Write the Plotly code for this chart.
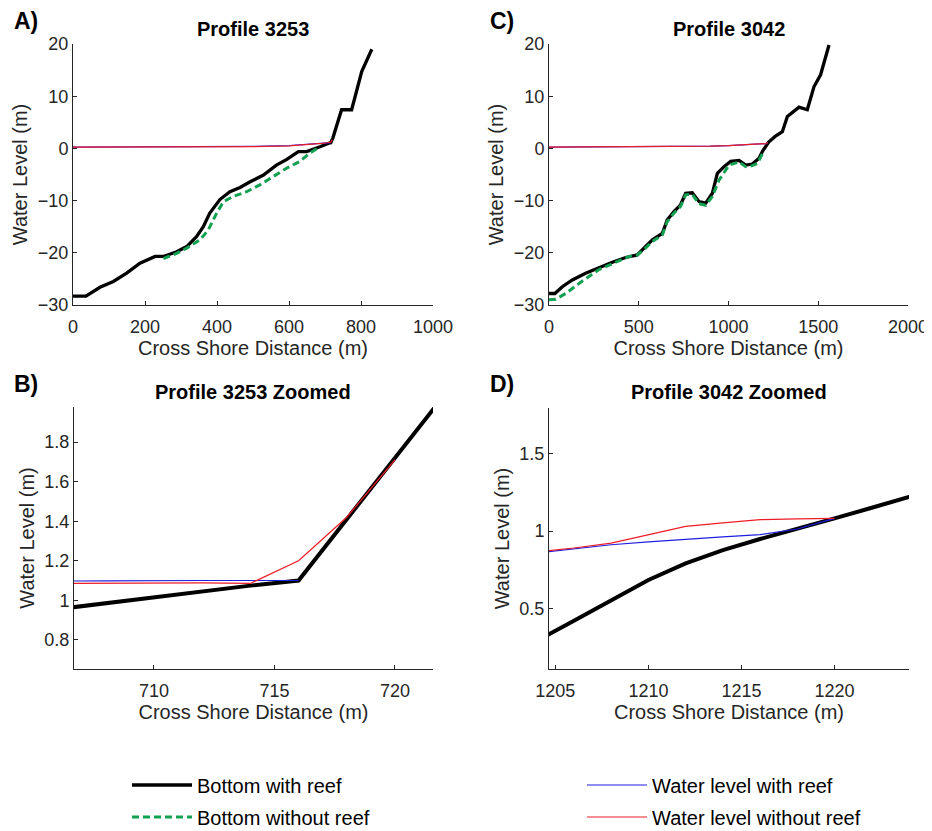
import plotly.graph_objects as go

# ---------------- data ----------------
# Profile 3253 : bottom with reef
p3253_bottom_reef_x = [0, 36, 75, 112, 149, 186, 228, 251, 288, 316, 343, 362, 380, 408, 436, 464,
                       492, 529, 565, 594, 626, 649, 686, 706, 708, 710, 712, 714, 716, 718, 720,
                       722, 746, 774, 802, 830]
p3253_bottom_reef_y = [-28.3, -28.3, -26.6, -25.5, -23.9, -22.0, -20.7, -20.7, -19.8, -18.8, -16.9,
                       -15.0, -12.4, -9.8, -8.3, -7.5, -6.4, -5.1, -3.2, -2.1, -0.6, -0.6, 0.3,
                       0.955, 0.985, 1.017, 1.045, 1.074, 1.10, 1.41, 1.72, 2.03, 7.4, 7.4, 14.7, 19.0]
# Profile 3253 : bottom without reef
p3253_bottom_noreef_x = [251, 288, 316, 353, 376, 399, 418, 445, 482, 519, 556, 593, 630, 658, 686]
p3253_bottom_noreef_y = [-21.1, -20.1, -19.1, -17.5, -15.6, -12.4, -10.2, -9.2, -8.3, -7.0, -5.4,
                         -3.8, -2.5, -0.9, 0.3]
# Profile 3253 : water levels
p3253_wl_reef_x = [0, 100, 200, 300, 400, 500, 600, 650, 690, 706, 708, 710, 712, 714, 716]
p3253_wl_reef_y = [0.25, 0.25, 0.26, 0.27, 0.30, 0.38, 0.55, 0.75, 0.98, 1.097, 1.098, 1.10, 1.10,
                   1.10, 1.10]
p3253_wl_noreef_x = [0, 100, 200, 300, 400, 500, 600, 650, 690, 706, 708, 710, 712, 714, 716, 718, 720]
p3253_wl_noreef_y = [0.25, 0.25, 0.26, 0.27, 0.29, 0.34, 0.48, 0.68, 0.95, 1.085, 1.086, 1.087,
                     1.088, 1.085, 1.20, 1.42, 1.71]

# Profile 3042 : bottom with reef
p3042_bottom_reef_x = [0, 33, 74, 130, 204, 279, 353, 427, 492, 529, 576, 631, 659, 696, 733, 761,
                       798, 836, 873, 910, 938, 975, 1012, 1059, 1096, 1133, 1170, 1190, 1204, 1206,
                       1208, 1210, 1212, 1214, 1216, 1218, 1220, 1222, 1224, 1260, 1300, 1328, 1393,
                       1439, 1476, 1513, 1560]
p3042_bottom_reef_y = [-27.8, -27.8, -26.5, -25.2, -23.9, -22.8, -21.8, -20.9, -20.4, -19.1, -17.5,
                       -16.3, -13.7, -12.1, -10.8, -8.6, -8.5, -10.2, -10.5, -8.6, -4.8, -3.5, -2.5,
                       -2.3, -3.2, -3.0, -1.9, -0.5, 0.29, 0.42, 0.554, 0.683, 0.791, 0.877, 0.948,
                       1.013, 1.082, 1.15, 1.22, 2.3, 3.2, 6.1, 7.9, 7.4, 11.8, 14.1, 19.8]
# Profile 3042 : bottom without reef
p3042_bottom_noreef_x = [0, 37, 93, 186, 279, 372, 446, 492, 529, 576, 631, 659, 696, 733, 761, 798,
                         836, 873, 910, 947, 1003, 1059, 1096, 1133, 1161, 1195]
p3042_bottom_noreef_y = [-29.0, -28.9, -27.8, -25.4, -23.2, -21.8, -20.7, -20.4, -19.4, -17.8,
                         -16.6, -14.0, -12.4, -11.1, -8.9, -8.8, -10.6, -10.9, -9.2, -6.1, -3.2,
                         -2.6, -3.5, -3.3, -2.9, -0.6]
# Profile 3042 : water levels
p3042_wl_x = [0, 300, 600, 900, 1000, 1100, 1150, 1190, 1204, 1206, 1208, 1210, 1212, 1214, 1216,
              1218, 1220]
p3042_wl_reef_y = [0.25, 0.27, 0.30, 0.42, 0.52, 0.65, 0.74, 0.82, 0.858, 0.885, 0.911, 0.93, 0.948,
                   0.962, 0.976, 1.013, 1.082]
p3042_wl_noreef_y = [0.25, 0.27, 0.30, 0.42, 0.52, 0.65, 0.74, 0.83, 0.865, 0.89, 0.922, 0.975,
                     1.03, 1.052, 1.073, 1.078, 1.082]

series_names = ["Bottom with reef", "Bottom without reef", "Water level with reef",
                "Water level without reef"]
panel_titles = ["Profile 3253", "Profile 3042", "Profile 3253 Zoomed", "Profile 3042 Zoomed"]
panel_letters = ["A)", "C)", "B)", "D)"]

# ---------------- styling ----------------
FONT = "Liberation Sans, Arial, Helvetica, sans-serif"
PAGE_W, PAGE_H = 932, 831
OFF = 8                       # default page margin of the html body
W, H = PAGE_W - OFF, PAGE_H - OFF
AX = "#262626"
BLACK, GREEN, BLUE, RED = "#000000", "#12a150", "#1f1fe0", "#ee1c25"


def fx(p):
    return (p - OFF) / W


def fy(p):
    return 1 - (p - OFF) / H


def dx(a, b):
    return [fx(a), fx(b)]


def dy(top, bottom):
    return [fy(bottom), fy(top)]


fig = go.Figure()

profiles = [
    ("x", "y", p3253_bottom_reef_x, p3253_bottom_reef_y, p3253_bottom_noreef_x, p3253_bottom_noreef_y,
     p3253_wl_reef_x, p3253_wl_reef_y, p3253_wl_noreef_x, p3253_wl_noreef_y, True, 3.3),
    ("x3", "y3", p3253_bottom_reef_x, p3253_bottom_reef_y, p3253_bottom_noreef_x, p3253_bottom_noreef_y,
     p3253_wl_reef_x, p3253_wl_reef_y, p3253_wl_noreef_x, p3253_wl_noreef_y, False, 4),
    ("x2", "y2", p3042_bottom_reef_x, p3042_bottom_reef_y, p3042_bottom_noreef_x, p3042_bottom_noreef_y,
     p3042_wl_x, p3042_wl_reef_y, p3042_wl_x, p3042_wl_noreef_y, False, 3.3),
    ("x4", "y4", p3042_bottom_reef_x, p3042_bottom_reef_y, p3042_bottom_noreef_x, p3042_bottom_noreef_y,
     p3042_wl_x, p3042_wl_reef_y, p3042_wl_x, p3042_wl_noreef_y, False, 4),
]

for xa, ya, bx, by, gx, gy, wbx, wby, wrx, wry, show, bw in profiles:
    fig.add_trace(go.Scatter(x=bx, y=by, mode="lines", name=series_names[0], xaxis=xa, yaxis=ya,
                             line=dict(color=BLACK, width=bw), showlegend=show, legend="legend"))
    fig.add_trace(go.Scatter(x=gx, y=gy, mode="lines", name=series_names[1], xaxis=xa, yaxis=ya,
                             line=dict(color=GREEN, width=3, dash="7px,4px"), showlegend=show,
                             legend="legend2"))
    fig.add_trace(go.Scatter(x=wbx, y=wby, mode="lines", name=series_names[2], xaxis=xa, yaxis=ya,
                             line=dict(color=BLUE, width=1.2), showlegend=show, legend="legend3"))
    fig.add_trace(go.Scatter(x=wrx, y=wry, mode="lines", name=series_names[3], xaxis=xa, yaxis=ya,
                             line=dict(color=RED, width=1.2), showlegend=show, legend="legend4"))

common = dict(showline=True, linecolor=AX, linewidth=1, ticks="inside", ticklen=4, tickcolor=AX,
              tickwidth=1, showgrid=False, zeroline=False, mirror=False,
              tickfont=dict(family=FONT, size=18, color=AX))
xt = dict(text="Cross Shore Distance (m)", font=dict(family=FONT, size=20, color=AX), standoff=3)
yt = dict(text="Water Level (m)", font=dict(family=FONT, size=20, color=AX), standoff=4)

leg_common = dict(orientation="v", xanchor="left", yanchor="middle", itemwidth=60,
                  font=dict(family=FONT, size=20, color="black"), bgcolor="rgba(0,0,0,0)")

fig.update_layout(
    width=W, height=H, template="none", paper_bgcolor="white", plot_bgcolor="white",
    margin=dict(l=0, r=0, t=0, b=0, autoexpand=False),
    font=dict(family=FONT, color="black"),
    xaxis=dict(common, domain=dx(73, 433), range=[0, 1000], tick0=0, dtick=200, anchor="y", title=xt,
               ticklabelstandoff=5),
    yaxis=dict(common, domain=dy(44, 305), range=[-30, 20], tick0=-30, dtick=10, anchor="x", title=yt,
               ticklabelstandoff=0),
    xaxis2=dict(common, domain=dx(549, 908), range=[0, 2000], tick0=0, dtick=500, anchor="y2",
                title=xt, ticklabelstandoff=5),
    yaxis2=dict(common, domain=dy(44, 305), range=[-30, 20], tick0=-30, dtick=10, anchor="x2",
                title=yt, ticklabelstandoff=0),
    xaxis3=dict(common, domain=dx(74, 433), range=[706.68, 721.58], tick0=710, dtick=5, anchor="y3",
                title=xt, ticklabelstandoff=5),
    yaxis3=dict(common, domain=dy(407, 669), range=[0.652, 1.978], tick0=0.8, dtick=0.2,
                anchor="x3", title=yt, ticklabelstandoff=0),
    xaxis4=dict(common, domain=dx(549, 909), range=[1204.66, 1224.0], tick0=1205, dtick=5,
                anchor="y4", title=xt, ticklabelstandoff=5),
    yaxis4=dict(common, domain=dy(408, 669), range=[0.108, 1.795], tick0=0.5, dtick=0.5,
                anchor="x4", title=yt, ticklabelstandoff=0),
    legend=dict(leg_common, x=fx(127), y=fy(785)),
    legend2=dict(leg_common, x=fx(127), y=fy(817)),
    legend3=dict(leg_common, x=fx(582), y=fy(785)),
    legend4=dict(leg_common, x=fx(582), y=fy(817)),
)

ann = []
title_pos = [(253, 29), (729, 29), (253, 392), (729, 392)]
letter_pos = [(12, 21), (488, 21), (12, 384), (488, 384)]
for t, (cx, cy) in zip(panel_titles, title_pos):
    ann.append(dict(text="<b>%s</b>" % t, x=fx(cx), y=fy(cy), xref="paper", yref="paper",
                    xanchor="center", yanchor="middle", showarrow=False,
                    font=dict(family=FONT, size=20, color="black")))
for t, (lx, ly) in zip(panel_letters, letter_pos):
    ann.append(dict(text="<b>%s</b>" % t, x=fx(lx), y=fy(ly), xref="paper", yref="paper",
                    xanchor="left", yanchor="middle", showarrow=False,
                    font=dict(family=FONT, size=23, color="black")))
fig.update_layout(annotations=ann)

fig.write_html("out.html")
